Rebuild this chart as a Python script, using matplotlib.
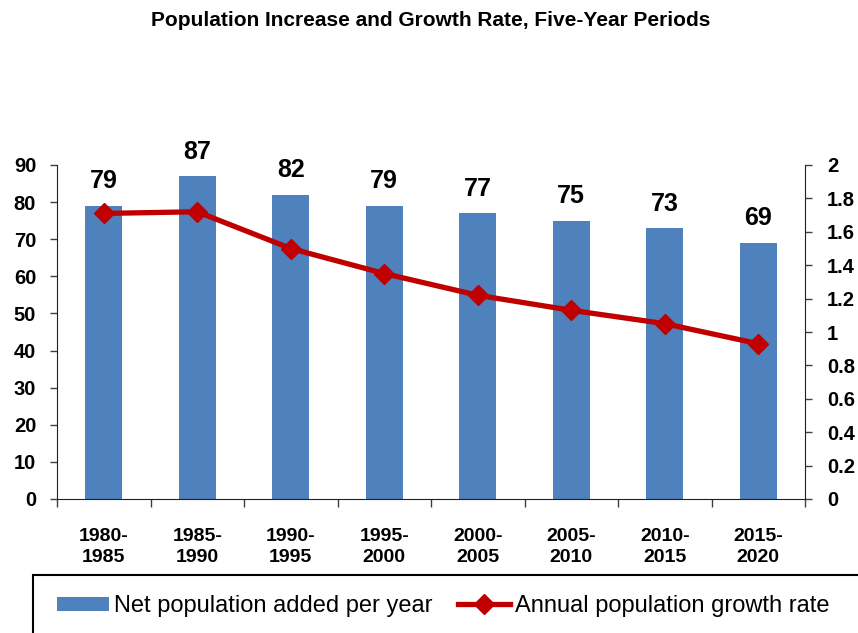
import numpy as np
import matplotlib.pyplot as plt
from matplotlib.patches import Rectangle
from matplotlib.ticker import FormatStrFormatter, FixedLocator

periods = ["1980-\n1985", "1985-\n1990", "1990-\n1995", "1995-\n2000",
           "2000-\n2005", "2005-\n2010", "2010-\n2015", "2015-\n2020"]
netAdded = [79, 87, 82, 79, 77, 75, 73, 69]
growthRate = [1.71, 1.72, 1.50, 1.35, 1.22, 1.13, 1.05, 0.93]

plt.rcParams['font.family'] = ['Liberation Sans', 'DejaVu Sans']

W, H = 858, 633
fig = plt.figure(figsize=(W / 100, H / 100), dpi=100)
ax = fig.add_axes([57 / W, 1 - 499 / H, (805 - 57) / W, (499 - 165) / H])
ax2 = ax.twinx()

x = np.arange(len(periods))
bars = ax.bar(x, netAdded, width=0.4, color='#4F81BD', zorder=2)
for xi, v in zip(x, netAdded):
    ax.annotate(str(v), (xi, v), xytext=(0, 9), textcoords='offset points',
                ha='center', va='bottom', fontsize=18, fontweight='bold')

line, = ax2.plot(x, growthRate, color='#C00000', linewidth=3.8, marker='D',
                 markersize=10, zorder=3)

ax.set_xlim(-0.5, len(periods) - 0.5)
ax.set_ylim(0, 90)
ax2.set_ylim(0, 2)
ax.set_yticks(np.arange(0, 91, 10))
ax2.set_yticks(np.arange(0, 2.01, 0.2))
ax2.yaxis.set_major_formatter(FormatStrFormatter('%g'))

# ticks at the category boundaries, labels centred in each category
ax.xaxis.set_major_locator(FixedLocator(np.arange(-0.5, len(periods), 1.0)))
ax.xaxis.set_minor_locator(FixedLocator(x))
ax.set_xticklabels([])
ax.set_xticklabels(periods, minor=True)
ax.tick_params(axis='x', which='major', direction='out', length=6, width=1, color='#404040')
ax.tick_params(axis='x', which='minor', length=0, pad=21, labelsize=14)
for lbl in ax.get_xticklabels(minor=True):
    lbl.set_fontweight('bold')
    lbl.set_linespacing(1.3)

ax.tick_params(axis='y', direction='out', length=5, width=1, color='#404040',
               labelsize=14.5, pad=10)
ax2.tick_params(axis='y', direction='out', length=5, width=1, color='#404040',
                labelsize=14.5, pad=11)
for lbl in ax.get_yticklabels() + ax2.get_yticklabels():
    lbl.set_fontweight('bold')

for a in (ax, ax2):
    a.spines['top'].set_visible(False)
    for s in ('left', 'right', 'bottom'):
        a.spines[s].set_color('#202020')
ax.spines['right'].set_visible(False)
ax2.spines['left'].set_visible(False)
ax2.spines['bottom'].set_visible(False)

fig.text(431 / W, 1 - 20 / H, 'Population Increase and Growth Rate, Five-Year Periods',
         ha='center', va='center', fontsize=15, fontweight='bold')

# legend box runs off the bottom and right of the picture
fig.patches.append(Rectangle((33 / W, 1 - 640 / H), (880 - 33) / W, (640 - 575) / H,
                             transform=fig.transFigure, fill=False,
                             edgecolor='black', linewidth=1.5))
leg = fig.legend([bars, line], ['Net population added per year', 'Annual population growth rate'],
                 loc='center', bbox_to_anchor=(443 / W, 1 - 606 / H), ncol=2,
                 fontsize=17, frameon=False, handlelength=2.2, handleheight=0.55,
                 handletextpad=0.2, columnspacing=1.1)

fig.savefig('out.png', dpi=100)
